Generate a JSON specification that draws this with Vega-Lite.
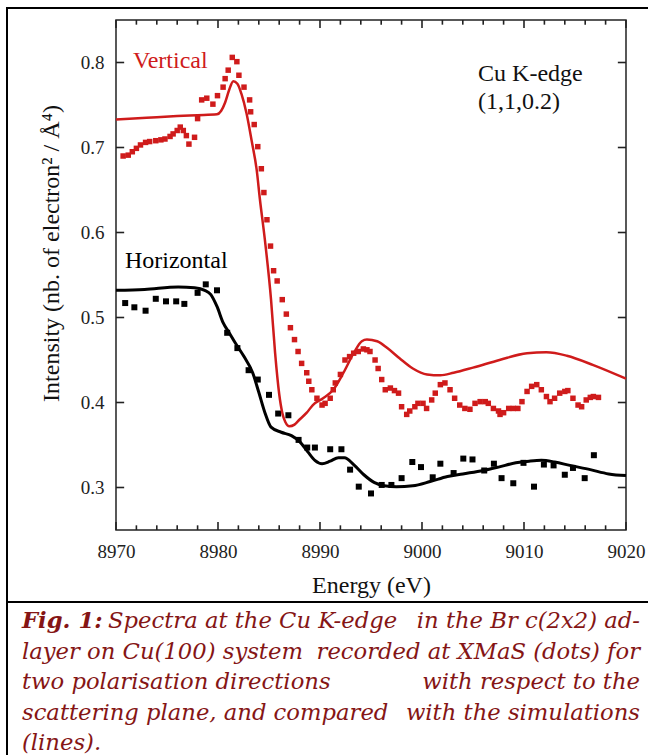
{
  "$schema": "https://vega.github.io/schema/vega-lite/v6.json",
  "padding": {"left": 6, "top": 7, "right": 0, "bottom": 0},
  "spacing": 0,
  "bounds": "flush",
  "background": "white",
  "config": {
    "view": {"stroke": "#000000", "strokeWidth": 2},
    "font": "Liberation Serif",
    "axis": {
      "labelFont": "Liberation Serif", "labelFontSize": 19, "labelColor": "#222222",
      "titleFont": "Liberation Serif", "titleFontSize": 24, "titleFontWeight": "normal", "titleColor": "#111111",
      "grid": false, "domain": false, "ticks": false,
      "labelFlush": false, "labelOverlap": false
    }
  },
  "datasets": {
    "frame": [{"e0": 8970, "e1": 9020, "i0": 0.25, "i1": 0.85}],
    "xticks": [
      {"energy": 8970, "kind": "major"}, {"energy": 8980, "kind": "major"}, {"energy": 8990, "kind": "major"},
      {"energy": 9000, "kind": "major"}, {"energy": 9010, "kind": "major"}, {"energy": 9020, "kind": "major"},
      {"energy": 8972, "kind": "minor"}, {"energy": 8974, "kind": "minor"}, {"energy": 8976, "kind": "minor"}, {"energy": 8978, "kind": "minor"},
      {"energy": 8982, "kind": "minor"}, {"energy": 8984, "kind": "minor"}, {"energy": 8986, "kind": "minor"}, {"energy": 8988, "kind": "minor"},
      {"energy": 8992, "kind": "minor"}, {"energy": 8994, "kind": "minor"}, {"energy": 8996, "kind": "minor"}, {"energy": 8998, "kind": "minor"},
      {"energy": 9002, "kind": "minor"}, {"energy": 9004, "kind": "minor"}, {"energy": 9006, "kind": "minor"}, {"energy": 9008, "kind": "minor"},
      {"energy": 9012, "kind": "minor"}, {"energy": 9014, "kind": "minor"}, {"energy": 9016, "kind": "minor"}, {"energy": 9018, "kind": "minor"}
    ],
    "yticks": [
      {"intensity": 0.3}, {"intensity": 0.4}, {"intensity": 0.5}, {"intensity": 0.6}, {"intensity": 0.7}, {"intensity": 0.8}
    ],
    "experiment": [
      {"polarisation": "Vertical", "energy": 8970.7, "intensity": 0.690},
      {"polarisation": "Vertical", "energy": 8971.2, "intensity": 0.691},
      {"polarisation": "Vertical", "energy": 8971.6, "intensity": 0.695},
      {"polarisation": "Vertical", "energy": 8972.0, "intensity": 0.699},
      {"polarisation": "Vertical", "energy": 8972.4, "intensity": 0.703},
      {"polarisation": "Vertical", "energy": 8972.9, "intensity": 0.706},
      {"polarisation": "Vertical", "energy": 8973.3, "intensity": 0.707},
      {"polarisation": "Vertical", "energy": 8973.9, "intensity": 0.708},
      {"polarisation": "Vertical", "energy": 8974.4, "intensity": 0.709},
      {"polarisation": "Vertical", "energy": 8974.8, "intensity": 0.710},
      {"polarisation": "Vertical", "energy": 8975.3, "intensity": 0.713},
      {"polarisation": "Vertical", "energy": 8975.6, "intensity": 0.716},
      {"polarisation": "Vertical", "energy": 8976.0, "intensity": 0.720},
      {"polarisation": "Vertical", "energy": 8976.3, "intensity": 0.724},
      {"polarisation": "Vertical", "energy": 8976.6, "intensity": 0.720},
      {"polarisation": "Vertical", "energy": 8976.9, "intensity": 0.714},
      {"polarisation": "Vertical", "energy": 8977.15, "intensity": 0.704},
      {"polarisation": "Vertical", "energy": 8977.7, "intensity": 0.712},
      {"polarisation": "Vertical", "energy": 8978.0, "intensity": 0.734},
      {"polarisation": "Vertical", "energy": 8978.4, "intensity": 0.756},
      {"polarisation": "Vertical", "energy": 8978.9, "intensity": 0.758},
      {"polarisation": "Vertical", "energy": 8979.5, "intensity": 0.751},
      {"polarisation": "Vertical", "energy": 8979.95, "intensity": 0.761},
      {"polarisation": "Vertical", "energy": 8980.5, "intensity": 0.771},
      {"polarisation": "Vertical", "energy": 8980.7, "intensity": 0.781},
      {"polarisation": "Vertical", "energy": 8981.0, "intensity": 0.791},
      {"polarisation": "Vertical", "energy": 8981.4, "intensity": 0.806},
      {"polarisation": "Vertical", "energy": 8981.85, "intensity": 0.801},
      {"polarisation": "Vertical", "energy": 8982.05, "intensity": 0.785},
      {"polarisation": "Vertical", "energy": 8982.55, "intensity": 0.771},
      {"polarisation": "Vertical", "energy": 8983.1, "intensity": 0.756},
      {"polarisation": "Vertical", "energy": 8983.2, "intensity": 0.742},
      {"polarisation": "Vertical", "energy": 8983.55, "intensity": 0.727},
      {"polarisation": "Vertical", "energy": 8983.9, "intensity": 0.701},
      {"polarisation": "Vertical", "energy": 8984.25, "intensity": 0.675},
      {"polarisation": "Vertical", "energy": 8984.5, "intensity": 0.647},
      {"polarisation": "Vertical", "energy": 8984.8, "intensity": 0.615},
      {"polarisation": "Vertical", "energy": 8985.15, "intensity": 0.584},
      {"polarisation": "Vertical", "energy": 8985.45, "intensity": 0.555},
      {"polarisation": "Vertical", "energy": 8985.8, "intensity": 0.543},
      {"polarisation": "Vertical", "energy": 8986.3, "intensity": 0.521},
      {"polarisation": "Vertical", "energy": 8986.7, "intensity": 0.504},
      {"polarisation": "Vertical", "energy": 8987.1, "intensity": 0.488},
      {"polarisation": "Vertical", "energy": 8987.5, "intensity": 0.474},
      {"polarisation": "Vertical", "energy": 8987.85, "intensity": 0.460},
      {"polarisation": "Vertical", "energy": 8988.2, "intensity": 0.446},
      {"polarisation": "Vertical", "energy": 8988.7, "intensity": 0.435},
      {"polarisation": "Vertical", "energy": 8988.9, "intensity": 0.425},
      {"polarisation": "Vertical", "energy": 8989.2, "intensity": 0.415},
      {"polarisation": "Vertical", "energy": 8989.7, "intensity": 0.405},
      {"polarisation": "Vertical", "energy": 8990.2, "intensity": 0.397},
      {"polarisation": "Vertical", "energy": 8990.5, "intensity": 0.399},
      {"polarisation": "Vertical", "energy": 8991.0, "intensity": 0.405},
      {"polarisation": "Vertical", "energy": 8991.3, "intensity": 0.415},
      {"polarisation": "Vertical", "energy": 8991.5, "intensity": 0.423},
      {"polarisation": "Vertical", "energy": 8992.0, "intensity": 0.433},
      {"polarisation": "Vertical", "energy": 8992.45, "intensity": 0.450},
      {"polarisation": "Vertical", "energy": 8992.9, "intensity": 0.454},
      {"polarisation": "Vertical", "energy": 8993.3, "intensity": 0.458},
      {"polarisation": "Vertical", "energy": 8993.75, "intensity": 0.460},
      {"polarisation": "Vertical", "energy": 8994.25, "intensity": 0.463},
      {"polarisation": "Vertical", "energy": 8994.6, "intensity": 0.462},
      {"polarisation": "Vertical", "energy": 8994.9, "intensity": 0.460},
      {"polarisation": "Vertical", "energy": 8995.4, "intensity": 0.450},
      {"polarisation": "Vertical", "energy": 8995.7, "intensity": 0.440},
      {"polarisation": "Vertical", "energy": 8996.05, "intensity": 0.427},
      {"polarisation": "Vertical", "energy": 8996.4, "intensity": 0.415},
      {"polarisation": "Vertical", "energy": 8996.9, "intensity": 0.417},
      {"polarisation": "Vertical", "energy": 8997.3, "intensity": 0.414},
      {"polarisation": "Vertical", "energy": 8997.7, "intensity": 0.411},
      {"polarisation": "Vertical", "energy": 8998.0, "intensity": 0.395},
      {"polarisation": "Vertical", "energy": 8998.5, "intensity": 0.386},
      {"polarisation": "Vertical", "energy": 8998.8, "intensity": 0.390},
      {"polarisation": "Vertical", "energy": 8999.3, "intensity": 0.395},
      {"polarisation": "Vertical", "energy": 8999.6, "intensity": 0.399},
      {"polarisation": "Vertical", "energy": 9000.1, "intensity": 0.399},
      {"polarisation": "Vertical", "energy": 9000.45, "intensity": 0.393},
      {"polarisation": "Vertical", "energy": 9000.95, "intensity": 0.403},
      {"polarisation": "Vertical", "energy": 9001.3, "intensity": 0.411},
      {"polarisation": "Vertical", "energy": 9001.8, "intensity": 0.421},
      {"polarisation": "Vertical", "energy": 9002.25, "intensity": 0.423},
      {"polarisation": "Vertical", "energy": 9002.75, "intensity": 0.415},
      {"polarisation": "Vertical", "energy": 9003.2, "intensity": 0.405},
      {"polarisation": "Vertical", "energy": 9003.7, "intensity": 0.397},
      {"polarisation": "Vertical", "energy": 9004.2, "intensity": 0.393},
      {"polarisation": "Vertical", "energy": 9004.7, "intensity": 0.392},
      {"polarisation": "Vertical", "energy": 9005.2, "intensity": 0.399},
      {"polarisation": "Vertical", "energy": 9005.7, "intensity": 0.401},
      {"polarisation": "Vertical", "energy": 9006.2, "intensity": 0.401},
      {"polarisation": "Vertical", "energy": 9006.5, "intensity": 0.399},
      {"polarisation": "Vertical", "energy": 9007.0, "intensity": 0.393},
      {"polarisation": "Vertical", "energy": 9007.5, "intensity": 0.390},
      {"polarisation": "Vertical", "energy": 9007.65, "intensity": 0.386},
      {"polarisation": "Vertical", "energy": 9008.0, "intensity": 0.388},
      {"polarisation": "Vertical", "energy": 9008.5, "intensity": 0.393},
      {"polarisation": "Vertical", "energy": 9008.95, "intensity": 0.393},
      {"polarisation": "Vertical", "energy": 9009.4, "intensity": 0.393},
      {"polarisation": "Vertical", "energy": 9009.8, "intensity": 0.401},
      {"polarisation": "Vertical", "energy": 9010.3, "intensity": 0.413},
      {"polarisation": "Vertical", "energy": 9010.75, "intensity": 0.419},
      {"polarisation": "Vertical", "energy": 9011.25, "intensity": 0.421},
      {"polarisation": "Vertical", "energy": 9011.7, "intensity": 0.415},
      {"polarisation": "Vertical", "energy": 9012.2, "intensity": 0.407},
      {"polarisation": "Vertical", "energy": 9012.55, "intensity": 0.401},
      {"polarisation": "Vertical", "energy": 9013.0, "intensity": 0.405},
      {"polarisation": "Vertical", "energy": 9013.5, "intensity": 0.411},
      {"polarisation": "Vertical", "energy": 9014.0, "intensity": 0.413},
      {"polarisation": "Vertical", "energy": 9014.3, "intensity": 0.414},
      {"polarisation": "Vertical", "energy": 9014.8, "intensity": 0.405},
      {"polarisation": "Vertical", "energy": 9015.3, "intensity": 0.397},
      {"polarisation": "Vertical", "energy": 9015.65, "intensity": 0.395},
      {"polarisation": "Vertical", "energy": 9016.1, "intensity": 0.403},
      {"polarisation": "Vertical", "energy": 9016.5, "intensity": 0.406},
      {"polarisation": "Vertical", "energy": 9016.8, "intensity": 0.407},
      {"polarisation": "Vertical", "energy": 9017.3, "intensity": 0.406},
      {"polarisation": "Horizontal", "energy": 8970.9, "intensity": 0.517},
      {"polarisation": "Horizontal", "energy": 8971.8, "intensity": 0.512},
      {"polarisation": "Horizontal", "energy": 8972.9, "intensity": 0.508},
      {"polarisation": "Horizontal", "energy": 8973.9, "intensity": 0.522},
      {"polarisation": "Horizontal", "energy": 8974.9, "intensity": 0.519},
      {"polarisation": "Horizontal", "energy": 8975.9, "intensity": 0.519},
      {"polarisation": "Horizontal", "energy": 8976.7, "intensity": 0.516},
      {"polarisation": "Horizontal", "energy": 8978.0, "intensity": 0.529},
      {"polarisation": "Horizontal", "energy": 8978.8, "intensity": 0.539},
      {"polarisation": "Horizontal", "energy": 8979.9, "intensity": 0.532},
      {"polarisation": "Horizontal", "energy": 8980.9, "intensity": 0.482},
      {"polarisation": "Horizontal", "energy": 8981.9, "intensity": 0.464},
      {"polarisation": "Horizontal", "energy": 8983.0, "intensity": 0.438},
      {"polarisation": "Horizontal", "energy": 8983.9, "intensity": 0.427},
      {"polarisation": "Horizontal", "energy": 8985.0, "intensity": 0.409},
      {"polarisation": "Horizontal", "energy": 8985.9, "intensity": 0.387},
      {"polarisation": "Horizontal", "energy": 8986.9, "intensity": 0.385},
      {"polarisation": "Horizontal", "energy": 8987.9, "intensity": 0.356},
      {"polarisation": "Horizontal", "energy": 8988.75, "intensity": 0.347},
      {"polarisation": "Horizontal", "energy": 8989.5, "intensity": 0.347},
      {"polarisation": "Horizontal", "energy": 8991.0, "intensity": 0.345},
      {"polarisation": "Horizontal", "energy": 8992.1, "intensity": 0.345},
      {"polarisation": "Horizontal", "energy": 8992.95, "intensity": 0.321},
      {"polarisation": "Horizontal", "energy": 8993.8, "intensity": 0.301},
      {"polarisation": "Horizontal", "energy": 8995.0, "intensity": 0.293},
      {"polarisation": "Horizontal", "energy": 8996.05, "intensity": 0.303},
      {"polarisation": "Horizontal", "energy": 8997.0, "intensity": 0.303},
      {"polarisation": "Horizontal", "energy": 8998.0, "intensity": 0.311},
      {"polarisation": "Horizontal", "energy": 8999.05, "intensity": 0.330},
      {"polarisation": "Horizontal", "energy": 8999.9, "intensity": 0.324},
      {"polarisation": "Horizontal", "energy": 9001.05, "intensity": 0.312},
      {"polarisation": "Horizontal", "energy": 9001.8, "intensity": 0.328},
      {"polarisation": "Horizontal", "energy": 9003.1, "intensity": 0.317},
      {"polarisation": "Horizontal", "energy": 9004.05, "intensity": 0.334},
      {"polarisation": "Horizontal", "energy": 9004.95, "intensity": 0.333},
      {"polarisation": "Horizontal", "energy": 9006.1, "intensity": 0.320},
      {"polarisation": "Horizontal", "energy": 9007.05, "intensity": 0.328},
      {"polarisation": "Horizontal", "energy": 9007.8, "intensity": 0.311},
      {"polarisation": "Horizontal", "energy": 9008.95, "intensity": 0.305},
      {"polarisation": "Horizontal", "energy": 9009.95, "intensity": 0.329},
      {"polarisation": "Horizontal", "energy": 9010.98, "intensity": 0.301},
      {"polarisation": "Horizontal", "energy": 9011.95, "intensity": 0.327},
      {"polarisation": "Horizontal", "energy": 9012.9, "intensity": 0.326},
      {"polarisation": "Horizontal", "energy": 9014.0, "intensity": 0.315},
      {"polarisation": "Horizontal", "energy": 9014.8, "intensity": 0.323},
      {"polarisation": "Horizontal", "energy": 9015.95, "intensity": 0.311},
      {"polarisation": "Horizontal", "energy": 9016.85, "intensity": 0.338}
    ],
    "simulation": [
      {"polarisation": "Vertical", "energy": 8970, "intensity": 0.733},
      {"polarisation": "Vertical", "energy": 8973, "intensity": 0.735},
      {"polarisation": "Vertical", "energy": 8976, "intensity": 0.737},
      {"polarisation": "Vertical", "energy": 8978, "intensity": 0.738},
      {"polarisation": "Vertical", "energy": 8979.9, "intensity": 0.739},
      {"polarisation": "Vertical", "energy": 8980.3, "intensity": 0.743},
      {"polarisation": "Vertical", "energy": 8980.7, "intensity": 0.753},
      {"polarisation": "Vertical", "energy": 8981.1, "intensity": 0.768},
      {"polarisation": "Vertical", "energy": 8981.5, "intensity": 0.778},
      {"polarisation": "Vertical", "energy": 8981.9, "intensity": 0.775},
      {"polarisation": "Vertical", "energy": 8982.3, "intensity": 0.763},
      {"polarisation": "Vertical", "energy": 8982.8, "intensity": 0.740},
      {"polarisation": "Vertical", "energy": 8983.3, "intensity": 0.708},
      {"polarisation": "Vertical", "energy": 8983.8, "intensity": 0.673},
      {"polarisation": "Vertical", "energy": 8984.1, "intensity": 0.640},
      {"polarisation": "Vertical", "energy": 8984.6, "intensity": 0.591},
      {"polarisation": "Vertical", "energy": 8985.2, "intensity": 0.521},
      {"polarisation": "Vertical", "energy": 8985.6, "intensity": 0.458},
      {"polarisation": "Vertical", "energy": 8986.0, "intensity": 0.410},
      {"polarisation": "Vertical", "energy": 8986.3, "intensity": 0.388},
      {"polarisation": "Vertical", "energy": 8986.6, "intensity": 0.377},
      {"polarisation": "Vertical", "energy": 8987.0, "intensity": 0.372},
      {"polarisation": "Vertical", "energy": 8987.5, "intensity": 0.374},
      {"polarisation": "Vertical", "energy": 8988.0, "intensity": 0.380},
      {"polarisation": "Vertical", "energy": 8988.7, "intensity": 0.388},
      {"polarisation": "Vertical", "energy": 8989.3, "intensity": 0.397},
      {"polarisation": "Vertical", "energy": 8990.3, "intensity": 0.405},
      {"polarisation": "Vertical", "energy": 8991.3, "intensity": 0.415},
      {"polarisation": "Vertical", "energy": 8992.3, "intensity": 0.435},
      {"polarisation": "Vertical", "energy": 8993.3, "intensity": 0.458},
      {"polarisation": "Vertical", "energy": 8994.1, "intensity": 0.472},
      {"polarisation": "Vertical", "energy": 8994.6, "intensity": 0.474},
      {"polarisation": "Vertical", "energy": 8995.6, "intensity": 0.472},
      {"polarisation": "Vertical", "energy": 8996.6, "intensity": 0.464},
      {"polarisation": "Vertical", "energy": 8997.8, "intensity": 0.452},
      {"polarisation": "Vertical", "energy": 8999.1, "intensity": 0.440},
      {"polarisation": "Vertical", "energy": 9000.5, "intensity": 0.433},
      {"polarisation": "Vertical", "energy": 9001.8, "intensity": 0.432},
      {"polarisation": "Vertical", "energy": 9003.1, "intensity": 0.435},
      {"polarisation": "Vertical", "energy": 9005.0, "intensity": 0.441},
      {"polarisation": "Vertical", "energy": 9007.6, "intensity": 0.450},
      {"polarisation": "Vertical", "energy": 9010.3, "intensity": 0.458},
      {"polarisation": "Vertical", "energy": 9012.2, "intensity": 0.459},
      {"polarisation": "Vertical", "energy": 9014.2, "intensity": 0.455},
      {"polarisation": "Vertical", "energy": 9016.8, "intensity": 0.444},
      {"polarisation": "Vertical", "energy": 9020, "intensity": 0.428},
      {"polarisation": "Horizontal", "energy": 8970, "intensity": 0.532},
      {"polarisation": "Horizontal", "energy": 8972.8, "intensity": 0.533},
      {"polarisation": "Horizontal", "energy": 8976.1, "intensity": 0.536},
      {"polarisation": "Horizontal", "energy": 8977.7, "intensity": 0.535},
      {"polarisation": "Horizontal", "energy": 8978.7, "intensity": 0.532},
      {"polarisation": "Horizontal", "energy": 8979.3, "intensity": 0.527},
      {"polarisation": "Horizontal", "energy": 8979.9, "intensity": 0.513},
      {"polarisation": "Horizontal", "energy": 8980.5, "intensity": 0.494},
      {"polarisation": "Horizontal", "energy": 8981.1, "intensity": 0.482},
      {"polarisation": "Horizontal", "energy": 8981.7, "intensity": 0.470},
      {"polarisation": "Horizontal", "energy": 8982.55, "intensity": 0.454},
      {"polarisation": "Horizontal", "energy": 8983.4, "intensity": 0.435},
      {"polarisation": "Horizontal", "energy": 8984.0, "intensity": 0.412},
      {"polarisation": "Horizontal", "energy": 8984.6, "intensity": 0.388},
      {"polarisation": "Horizontal", "energy": 8985.2, "intensity": 0.371},
      {"polarisation": "Horizontal", "energy": 8986.2, "intensity": 0.365},
      {"polarisation": "Horizontal", "energy": 8987.2, "intensity": 0.361},
      {"polarisation": "Horizontal", "energy": 8988.0, "intensity": 0.354},
      {"polarisation": "Horizontal", "energy": 8988.8, "intensity": 0.342},
      {"polarisation": "Horizontal", "energy": 8989.5, "intensity": 0.332},
      {"polarisation": "Horizontal", "energy": 8990.2, "intensity": 0.328},
      {"polarisation": "Horizontal", "energy": 8991.0, "intensity": 0.331},
      {"polarisation": "Horizontal", "energy": 8991.8, "intensity": 0.335},
      {"polarisation": "Horizontal", "energy": 8992.4, "intensity": 0.335},
      {"polarisation": "Horizontal", "energy": 8993.3, "intensity": 0.327},
      {"polarisation": "Horizontal", "energy": 8994.3, "intensity": 0.315},
      {"polarisation": "Horizontal", "energy": 8995.3, "intensity": 0.306},
      {"polarisation": "Horizontal", "energy": 8996.3, "intensity": 0.302},
      {"polarisation": "Horizontal", "energy": 8997.5, "intensity": 0.301},
      {"polarisation": "Horizontal", "energy": 8999.1, "intensity": 0.302},
      {"polarisation": "Horizontal", "energy": 9000.8, "intensity": 0.307},
      {"polarisation": "Horizontal", "energy": 9002.5, "intensity": 0.313},
      {"polarisation": "Horizontal", "energy": 9004.0, "intensity": 0.316},
      {"polarisation": "Horizontal", "energy": 9006.0, "intensity": 0.320},
      {"polarisation": "Horizontal", "energy": 9007.5, "intensity": 0.324},
      {"polarisation": "Horizontal", "energy": 9009.2, "intensity": 0.329},
      {"polarisation": "Horizontal", "energy": 9010.5, "intensity": 0.331},
      {"polarisation": "Horizontal", "energy": 9011.7, "intensity": 0.332},
      {"polarisation": "Horizontal", "energy": 9013.0, "intensity": 0.330},
      {"polarisation": "Horizontal", "energy": 9014.5, "intensity": 0.326},
      {"polarisation": "Horizontal", "energy": 9016.5, "intensity": 0.321},
      {"polarisation": "Horizontal", "energy": 9018.3, "intensity": 0.316},
      {"polarisation": "Horizontal", "energy": 9020, "intensity": 0.314}
    ],
    "seriesLabels": [
      {"polarisation": "Vertical", "energy": 8971.67, "intensity": 0.7935, "label": "Vertical"},
      {"polarisation": "Horizontal", "energy": 8970.88, "intensity": 0.5582, "label": "Horizontal"}
    ],
    "edgeLabels": [
      {"energy": 9005.5, "intensity": 0.7782, "label": "Cu K-edge"},
      {"energy": 9005.5, "intensity": 0.7453, "label": "(1,1,0.2)"}
    ],
    "caption": [
      {"line": 1, "part": "lead", "text": "Fig. 1:"},
      {"line": 1, "part": "start", "text": "Spectra at the Cu K-edge"},
      {"line": 1, "part": "end", "text": "in the Br c(2x2) ad-"},
      {"line": 2, "part": "first", "text": "layer on Cu(100) system"},
      {"line": 2, "part": "end", "text": "recorded at XMaS (dots) for"},
      {"line": 3, "part": "first", "text": "two polarisation directions"},
      {"line": 3, "part": "end", "text": "with respect to the"},
      {"line": 4, "part": "first", "text": "scattering plane, and compared"},
      {"line": 4, "part": "end", "text": "with the simulations"},
      {"line": 5, "part": "first", "text": "(lines)."}
    ]
  },
  "vconcat": [
    {
      "width": 642,
      "height": 594,
      "layer": [
        {
          "data": {"name": "frame"},
          "mark": {"type": "rect", "fill": null, "stroke": "#222222", "strokeWidth": 1.5},
          "encoding": {
            "x": {"field": "e0", "type": "quantitative",
                  "scale": {"domain": [8959.314, 9022.255], "nice": false, "zero": false},
                  "axis": {"orient": "bottom", "offset": -72, "values": [8970, 8980, 8990, 9000, 9010, 9020], "format": "d",
                           "ticks": false, "labelPadding": 12, "labelFont": "Liberation Serif", "labelFontSize": 19,
                           "title": "Energy (eV)", "titleFont": "Liberation Serif", "titleFontSize": 24,
                           "titleX": 364, "titleY": 62, "titleBaseline": "alphabetic"}},
            "x2": {"field": "e1"},
            "y": {"field": "i0", "type": "quantitative",
                  "scale": {"domain": [0.16529, 0.86412], "nice": false, "zero": false},
                  "axis": {"orient": "left", "offset": -109, "values": [0.3, 0.4, 0.5, 0.6, 0.7, 0.8], "format": ".1f",
                           "ticks": false, "labelPadding": 12, "labelFont": "Liberation Serif", "labelFontSize": 19,
                           "title": "Intensity (nb. of electron² / Å⁴)", "titleFont": "Liberation Serif", "titleFontSize": 24,
                           "titleX": -58, "titleY": 245, "titleAngle": 270, "titleBaseline": "alphabetic"}},
            "y2": {"field": "i1"}
          }
        },
        {
          "data": {"name": "xticks"},
          "transform": [{"filter": "datum.kind === 'major'"}],
          "mark": {"type": "rule", "color": "#222222", "strokeWidth": 1.6},
          "encoding": {
            "x": {"field": "energy", "type": "quantitative"},
            "y": {"datum": 0.25, "type": "quantitative"},
            "y2": {"datum": 0.2594}
          }
        },
        {
          "data": {"name": "xticks"},
          "transform": [{"filter": "datum.kind === 'major'"}],
          "mark": {"type": "rule", "color": "#222222", "strokeWidth": 1.6},
          "encoding": {
            "x": {"field": "energy", "type": "quantitative"},
            "y": {"datum": 0.85, "type": "quantitative"},
            "y2": {"datum": 0.8406}
          }
        },
        {
          "data": {"name": "xticks"},
          "transform": [{"filter": "datum.kind === 'minor'"}],
          "mark": {"type": "rule", "color": "#222222", "strokeWidth": 1.6},
          "encoding": {
            "x": {"field": "energy", "type": "quantitative"},
            "y": {"datum": 0.25, "type": "quantitative"},
            "y2": {"datum": 0.2555}
          }
        },
        {
          "data": {"name": "xticks"},
          "transform": [{"filter": "datum.kind === 'minor'"}],
          "mark": {"type": "rule", "color": "#222222", "strokeWidth": 1.6},
          "encoding": {
            "x": {"field": "energy", "type": "quantitative"},
            "y": {"datum": 0.85, "type": "quantitative"},
            "y2": {"datum": 0.8445}
          }
        },
        {
          "data": {"name": "yticks"},
          "mark": {"type": "rule", "color": "#222222", "strokeWidth": 1.6},
          "encoding": {
            "x": {"datum": 8970, "type": "quantitative"},
            "x2": {"datum": 8970.8},
            "y": {"field": "intensity", "type": "quantitative"}
          }
        },
        {
          "data": {"name": "yticks"},
          "mark": {"type": "rule", "color": "#222222", "strokeWidth": 1.6},
          "encoding": {
            "x": {"datum": 9020, "type": "quantitative"},
            "x2": {"datum": 9019.2},
            "y": {"field": "intensity", "type": "quantitative"}
          }
        },
        {
          "data": {"name": "experiment"},
          "transform": [{"filter": "datum.polarisation === 'Horizontal'"}],
          "mark": {"type": "square", "size": 36, "opacity": 1},
          "encoding": {
            "x": {"field": "energy", "type": "quantitative"},
            "y": {"field": "intensity", "type": "quantitative"},
            "color": {"field": "polarisation", "type": "nominal",
                      "scale": {"domain": ["Vertical", "Horizontal"], "range": ["#cf1b1b", "#000000"]}, "legend": null}
          }
        },
        {
          "data": {"name": "experiment"},
          "transform": [{"filter": "datum.polarisation === 'Vertical'"}],
          "mark": {"type": "square", "size": 30, "opacity": 1},
          "encoding": {
            "x": {"field": "energy", "type": "quantitative"},
            "y": {"field": "intensity", "type": "quantitative"},
            "color": {"field": "polarisation", "type": "nominal", "legend": null}
          }
        },
        {
          "data": {"name": "simulation"},
          "transform": [{"filter": "datum.polarisation === 'Horizontal'"}],
          "mark": {"type": "line", "strokeWidth": 3, "interpolate": "monotone"},
          "encoding": {
            "x": {"field": "energy", "type": "quantitative"},
            "y": {"field": "intensity", "type": "quantitative"},
            "color": {"field": "polarisation", "type": "nominal", "legend": null}
          }
        },
        {
          "data": {"name": "simulation"},
          "transform": [{"filter": "datum.polarisation === 'Vertical'"}],
          "mark": {"type": "line", "strokeWidth": 2.5, "interpolate": "monotone"},
          "encoding": {
            "x": {"field": "energy", "type": "quantitative"},
            "y": {"field": "intensity", "type": "quantitative"},
            "color": {"field": "polarisation", "type": "nominal", "legend": null}
          }
        },
        {
          "data": {"name": "seriesLabels"},
          "mark": {"type": "text", "font": "Liberation Serif", "fontSize": 24, "align": "left", "baseline": "alphabetic"},
          "encoding": {
            "x": {"field": "energy", "type": "quantitative"},
            "y": {"field": "intensity", "type": "quantitative"},
            "text": {"field": "label"},
            "color": {"field": "polarisation", "type": "nominal", "legend": null}
          }
        },
        {
          "data": {"name": "edgeLabels"},
          "mark": {"type": "text", "font": "Liberation Serif", "fontSize": 24, "align": "left", "baseline": "alphabetic", "color": "#111111"},
          "encoding": {
            "x": {"field": "energy", "type": "quantitative"},
            "y": {"field": "intensity", "type": "quantitative"},
            "text": {"field": "label"}
          }
        }
      ]
    },
    {
      "width": 642,
      "height": 155,
      "data": {"name": "caption"},
      "layer": [
        {
          "transform": [{"filter": "datum.part === 'lead'"}],
          "mark": {"type": "text", "font": "DejaVu Serif", "fontStyle": "italic", "fontWeight": "bold", "fontSize": 22.7, "color": "#851515", "align": "left", "baseline": "alphabetic", "dx": 15},
          "encoding": {
            "x": {"datum": 0, "type": "quantitative", "scale": {"domain": [0, 1], "nice": false, "zero": false}, "axis": null},
            "y": {"field": "line", "type": "quantitative", "scale": {"domain": [0.1475, 5.2295], "reverse": true, "nice": false, "zero": false}, "axis": null},
            "text": {"field": "text"}
          }
        },
        {
          "transform": [{"filter": "datum.part === 'start'"}],
          "mark": {"type": "text", "font": "DejaVu Serif", "fontStyle": "italic", "fontSize": 22.7, "color": "#851515", "align": "left", "baseline": "alphabetic", "dx": 101},
          "encoding": {
            "x": {"datum": 0, "type": "quantitative", "axis": null},
            "y": {"field": "line", "type": "quantitative", "axis": null},
            "text": {"field": "text"}
          }
        },
        {
          "transform": [{"filter": "datum.part === 'first'"}],
          "mark": {"type": "text", "font": "DejaVu Serif", "fontStyle": "italic", "fontSize": 22.7, "color": "#851515", "align": "left", "baseline": "alphabetic", "dx": 15},
          "encoding": {
            "x": {"datum": 0, "type": "quantitative", "axis": null},
            "y": {"field": "line", "type": "quantitative", "axis": null},
            "text": {"field": "text"}
          }
        },
        {
          "transform": [{"filter": "datum.part === 'end'"}],
          "mark": {"type": "text", "font": "DejaVu Serif", "fontStyle": "italic", "fontSize": 22.7, "color": "#851515", "align": "right", "baseline": "alphabetic", "dx": -9},
          "encoding": {
            "x": {"datum": 1, "type": "quantitative", "axis": null},
            "y": {"field": "line", "type": "quantitative", "axis": null},
            "text": {"field": "text"}
          }
        }
      ]
    }
  ]
}
